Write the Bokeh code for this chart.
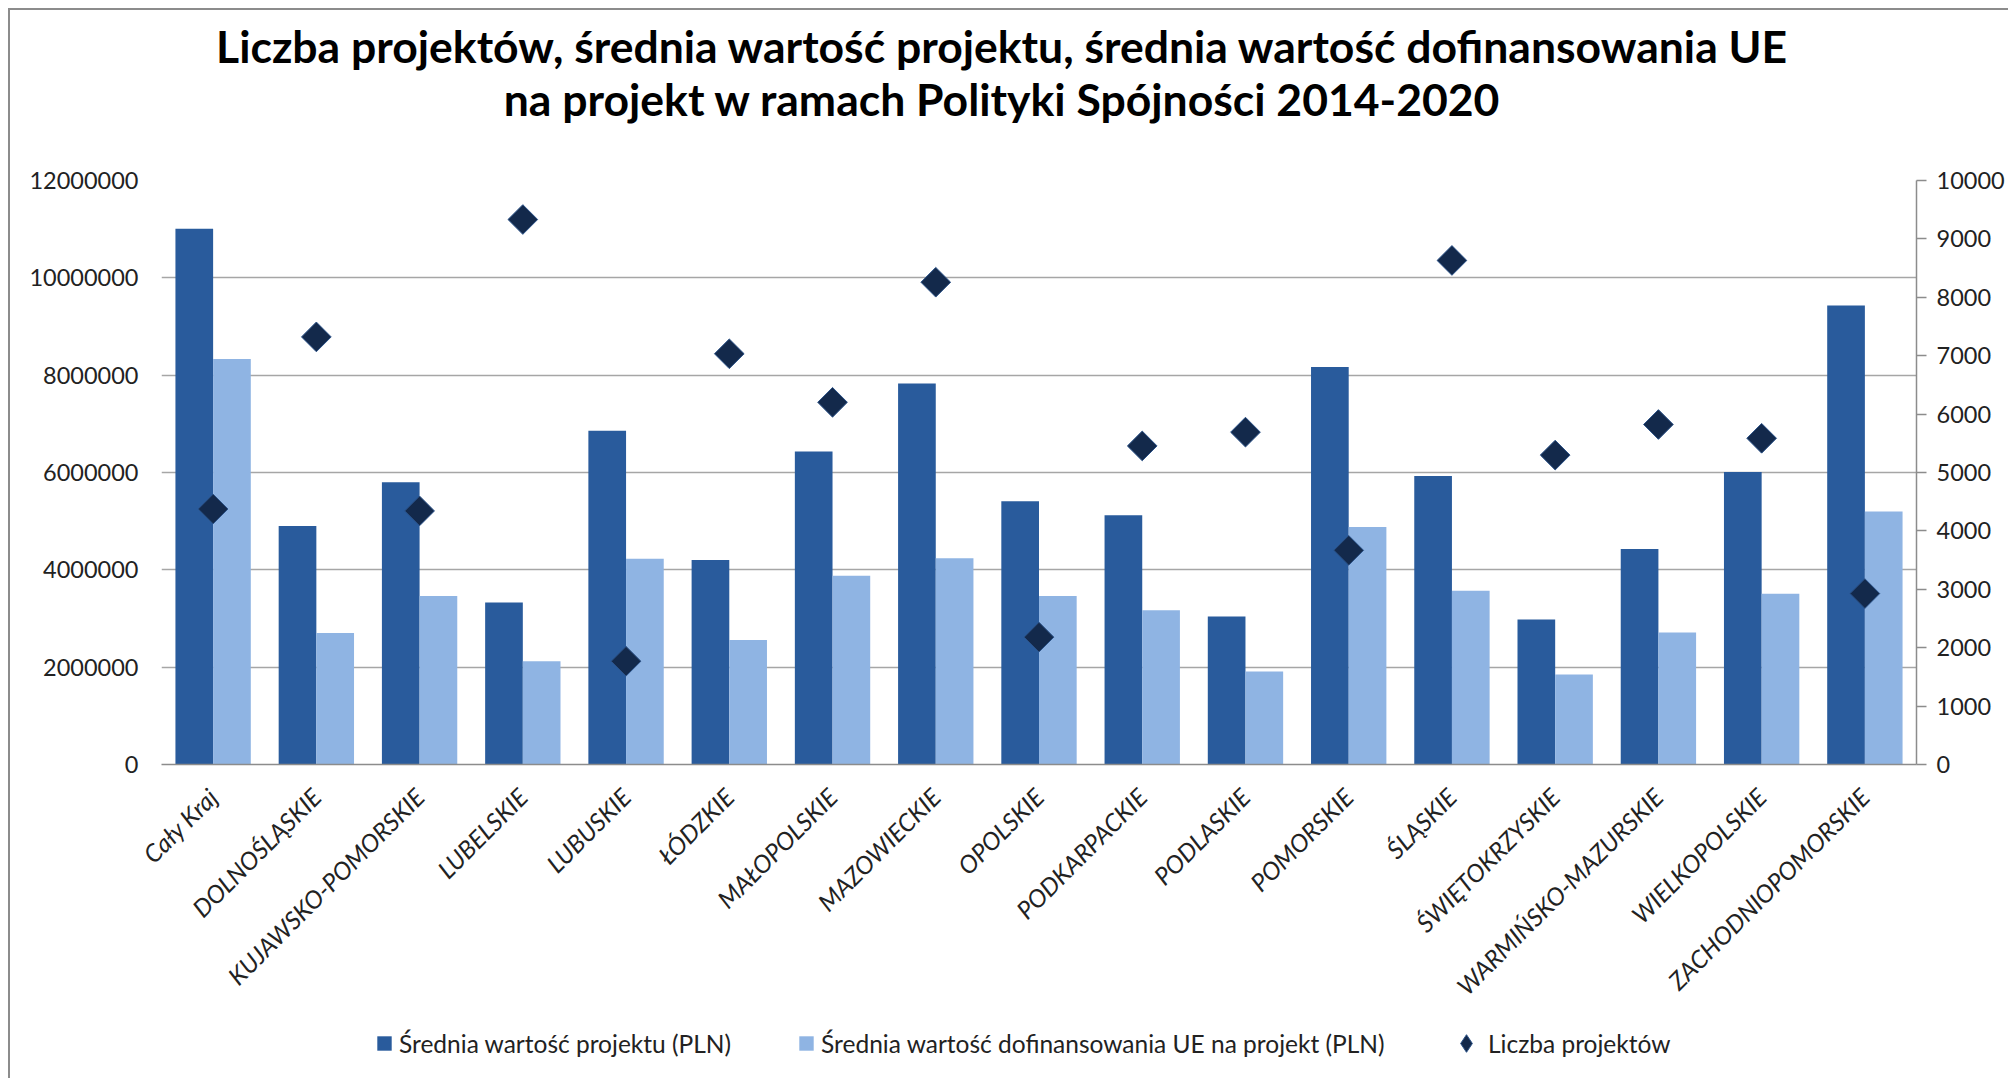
import math
from bokeh.plotting import figure
from bokeh.layouts import column
from bokeh.models import (FactorRange, Range1d, LinearAxis, FixedTicker, NumeralTickFormatter,
                          ColumnDataSource, Label, Legend, LegendItem)
from bokeh.transform import dodge
from bokeh.embed import file_html
from bokeh.resources import INLINE

categories = ["Cały Kraj", "DOLNOŚLĄSKIE", "KUJAWSKO-POMORSKIE", "LUBELSKIE", "LUBUSKIE",
              "ŁÓDZKIE", "MAŁOPOLSKIE", "MAZOWIECKIE", "OPOLSKIE", "PODKARPACKIE",
              "PODLASKIE", "POMORSKIE", "ŚLĄSKIE", "ŚWIĘTOKRZYSKIE", "WARMIŃSKO-MAZURSKIE",
              "WIELKOPOLSKIE", "ZACHODNIOPOMORSKIE"]
avg_project_value = [11010000, 4900000, 5800000, 3330000, 6860000, 4200000, 6430000, 7830000,
                     5410000, 5120000, 3040000, 8170000, 5930000, 2980000, 4430000, 6010000, 9430000]
avg_eu_cofinancing = [8330000, 2700000, 3460000, 2120000, 4230000, 2560000, 3880000, 4240000,
                      3460000, 3170000, 1910000, 4880000, 3570000, 1850000, 2710000, 3510000, 5200000]
project_count = [4375, 7322, 4342, 9332, 1768, 7033, 6202, 8258, 2181, 5455, 5691, 3667,
                 8631, 5298, 5822, 5586, 2927]
left_ticks = [0, 2000000, 4000000, 6000000, 8000000, 10000000, 12000000]
right_ticks = [0, 1000, 2000, 3000, 4000, 5000, 6000, 7000, 8000, 9000, 10000]
title_lines = ["Liczba projektów, średnia wartość projektu, średnia wartość dofinansowania UE",
               "na projekt w ramach Polityki Spójności 2014-2020"]
legend_labels = ["Średnia wartość projektu (PLN)",
                 "Średnia wartość dofinansowania UE na projekt (PLN)",
                 "Liczba projektów"]

FONT = "Lato"
DARK = "#295B9C"
LIGHT = "#8FB4E3"
NAVY = "#13294B"
EDGE = "#2B5288"
GRID = "#A6A6A6"
AXIS = "#8C8C8C"
TXT = "#222222"
W = 1998


def blank_fig(h):
    f = figure(width=W, height=h, x_range=Range1d(0, 1), y_range=Range1d(0, 1), title=None,
               min_border=0, x_axis_location=None, y_axis_location=None,
               output_backend="svg", toolbar_location=None, tools="")
    f.outline_line_color = None
    for g in f.grid:
        g.visible = False
    return f


# ---------- title ----------
tfig = blank_fig(150)
for txt, yy in zip(title_lines, [115, 62.5]):
    tfig.add_layout(Label(x=841, y=yy, x_units="screen", y_units="screen", text=txt,
                          text_align="center", text_baseline="alphabetic",
                          text_font=FONT, text_font_style="bold", text_font_size="44.5px",
                          text_color="black"))

# ---------- main chart ----------
src = ColumnDataSource(dict(cat=categories, val=avg_project_value,
                            eu=avg_eu_cofinancing, cnt=project_count))

p = figure(x_range=FactorRange(factors=categories, range_padding=0),
           y_range=Range1d(0, 12000000), title=None,
           frame_width=1755, frame_height=584,
           min_border_left=151, min_border_right=92, min_border_top=20, min_border_bottom=230,
           output_backend="svg", toolbar_location=None, tools="")
p.outline_line_color = None
p.extra_y_ranges = {"cnt": Range1d(0, 10000)}

p.vbar(x=dodge("cat", -0.1825, range=p.x_range), top="val", width=0.365, source=src,
       fill_color=DARK, line_color=None)
p.vbar(x=dodge("cat", 0.1825, range=p.x_range), top="eu", width=0.365, source=src,
       fill_color=LIGHT, line_color=None)
p.scatter(x="cat", y="cnt", source=src, y_range_name="cnt", marker="square",
          angle=math.pi / 4, size=21, fill_color=NAVY, line_color=EDGE, line_width=1)

p.xgrid.grid_line_color = None
p.ygrid.grid_line_color = GRID
p.ygrid.grid_line_width = 1.5

ly = p.yaxis[0]
ly.ticker = FixedTicker(ticks=left_ticks)
ly.formatter = NumeralTickFormatter(format="0")
ly.axis_line_color = None
ly.major_tick_line_color = None
ly.major_tick_out = 0
ly.major_tick_in = 0
ly.minor_tick_line_color = None
ly.major_label_standoff = 23
ly.major_label_text_font = FONT
ly.major_label_text_font_size = "23.5px"
ly.major_label_text_color = TXT

ry = LinearAxis(y_range_name="cnt", ticker=FixedTicker(ticks=right_ticks),
                formatter=NumeralTickFormatter(format="0"))
ry.axis_line_color = AXIS
ry.axis_line_width = 1.5
ry.major_tick_line_color = AXIS
ry.major_tick_line_width = 1.5
ry.major_tick_out = 10
ry.major_tick_in = 0
ry.minor_tick_line_color = None
ry.major_label_standoff = 10
ry.major_label_text_font = FONT
ry.major_label_text_font_size = "23.5px"
ry.major_label_text_color = TXT
p.add_layout(ry, "right")

bx = p.xaxis[0]
bx.axis_line_color = AXIS
bx.axis_line_width = 1.5
bx.major_tick_line_color = None
bx.major_tick_out = 0
bx.major_tick_in = 0
bx.minor_tick_line_color = None
bx.major_label_orientation = math.pi / 4
bx.major_label_standoff = 28
bx.major_label_text_font = FONT
bx.major_label_text_font_style = "italic"
bx.major_label_text_font_size = "24.5px"
bx.major_label_text_color = TXT

# ---------- legend ----------
lfig = blank_fig(80)
nan = float("nan")
g1 = lfig.vbar(x=[0.5], top=[nan], width=0.1, fill_color=DARK, line_color=None)
g2 = lfig.vbar(x=[0.5], top=[nan], width=0.1, fill_color=LIGHT, line_color=None)
g3 = lfig.scatter(x=[0.5], y=[nan], marker="diamond", size=18,
                  fill_color=NAVY, line_color=EDGE, line_width=1)
common = dict(orientation="horizontal", padding=0, margin=0, border_line_color=None,
              background_fill_alpha=0, label_height=44, label_text_font=FONT,
              label_text_font_size="24.5px", label_text_color=TXT)
lgA = Legend(items=[LegendItem(label=legend_labels[0], renderers=[g1]),
                    LegendItem(label=legend_labels[1], renderers=[g2])],
             location=(214, 28), glyph_width=18, glyph_height=18, label_standoff=6,
             spacing=66, **common)
lgB = Legend(items=[LegendItem(label=legend_labels[2], renderers=[g3])],
             location=(1283, 28), glyph_width=44, glyph_height=44, label_standoff=0,
             **common)
lfig.add_layout(lgA)
lfig.add_layout(lgB)

layout = column(tfig, p, lfig, spacing=0)
layout.styles = {"margin-left": "8px", "margin-top": "8px",
                 "border-top": "2px solid #8c8c8c", "border-left": "2px solid #8c8c8c"}

open("out.html", "w").write(file_html(layout, INLINE))
